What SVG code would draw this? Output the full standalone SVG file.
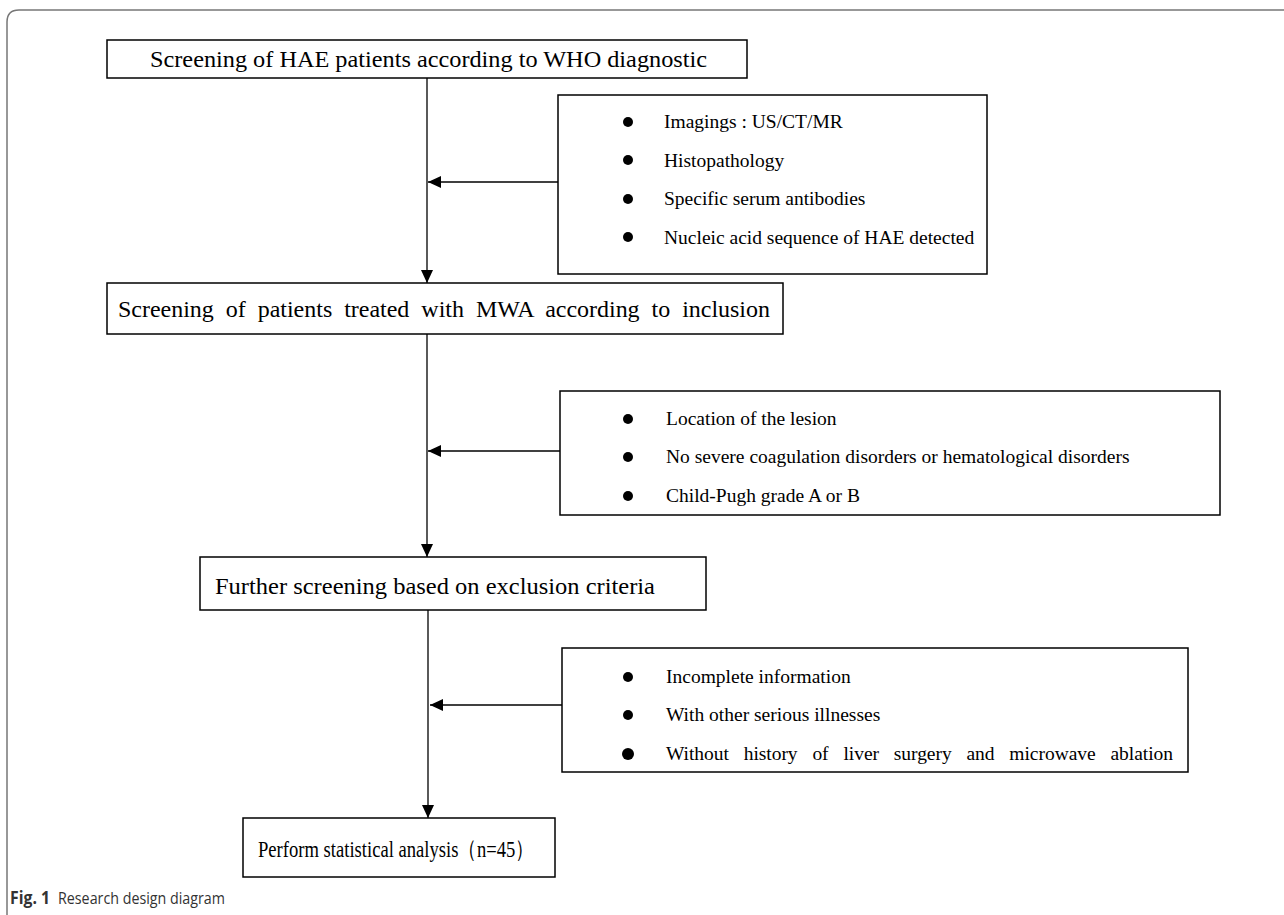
<svg xmlns="http://www.w3.org/2000/svg" width="1284" height="915" viewBox="0 0 1284 915">
<style>
.box{fill:#fff;stroke:#000;stroke-width:1.5}
.t{font-family:"Liberation Serif","Times New Roman",serif;fill:#000}
.big{font-size:24px}
.sm{font-size:19.5px}
.line{stroke:#000;stroke-width:1.3;fill:none}
.dot{fill:#000}
.frame{fill:none;stroke:#777;stroke-width:1.5}
.cap{font-family:"Open Sans","Noto Sans",sans-serif;font-size:17px;fill:#333}
</style>
<defs>
<marker id="ah" viewBox="0 0 13 12" refX="13" refY="6" markerWidth="13" markerHeight="12" markerUnits="userSpaceOnUse" orient="auto">
<path d="M0,0 L13,6 L0,12 z" fill="#000"/>
</marker>
</defs>
<rect width="1284" height="915" fill="#fff"/>
<path class="frame" d="M7,915 L7,22 Q7,10 19,10 L1284,10"/>
<g id="connectors">
<line class="line" x1="427" y1="78" x2="427" y2="283" marker-end="url(#ah)"/>
<line class="line" x1="558" y1="182" x2="428" y2="182" marker-end="url(#ah)"/>
<line class="line" x1="427" y1="334" x2="427" y2="557" marker-end="url(#ah)"/>
<line class="line" x1="560" y1="451" x2="428" y2="451" marker-end="url(#ah)"/>
<line class="line" x1="428" y1="610" x2="428" y2="818" marker-end="url(#ah)"/>
<line class="line" x1="562" y1="705" x2="430" y2="705" marker-end="url(#ah)"/>
</g>
<g id="n1">
<rect class="box" x="107" y="40" width="640" height="38"/>
<text class="t big" x="150" y="67" textLength="557" lengthAdjust="spacingAndGlyphs">Screening of HAE patients according to WHO diagnostic</text>
</g>
<g id="c1">
<rect class="box" x="558" y="95" width="429" height="179"/>
<circle class="dot" cx="628" cy="122" r="5"/>
<circle class="dot" cx="628" cy="160" r="5"/>
<circle class="dot" cx="628" cy="199" r="5"/>
<circle class="dot" cx="628" cy="237" r="5"/>
<text class="t sm" x="664" y="128">Imagings : US/CT/MR</text>
<text class="t sm" x="664" y="167">Histopathology</text>
<text class="t sm" x="664" y="205">Specific serum antibodies</text>
<text class="t sm" x="664" y="244">Nucleic acid sequence of HAE detected</text>
</g>
<g id="n2">
<rect class="box" x="107" y="283" width="676" height="51"/>
<text class="t big" x="118" y="317" word-spacing="6" textLength="652" lengthAdjust="spacing">Screening of patients treated with MWA according to inclusion</text>
</g>
<g id="c2">
<rect class="box" x="560" y="391" width="660" height="124"/>
<circle class="dot" cx="628" cy="419" r="5"/>
<circle class="dot" cx="628" cy="457" r="5"/>
<circle class="dot" cx="628" cy="496" r="5"/>
<text class="t sm" x="666" y="425">Location of the lesion</text>
<text class="t sm" x="666" y="463">No severe coagulation disorders or hematological disorders</text>
<text class="t sm" x="666" y="502">Child-Pugh grade A or B</text>
</g>
<g id="n3">
<rect class="box" x="200" y="557" width="506" height="53"/>
<text class="t big" x="215" y="594" textLength="440" lengthAdjust="spacingAndGlyphs">Further screening based on exclusion criteria</text>
</g>
<g id="c3">
<rect class="box" x="562" y="648" width="626" height="124"/>
<circle class="dot" cx="628" cy="677" r="5"/>
<circle class="dot" cx="628" cy="715" r="5"/>
<circle class="dot" cx="628" cy="754" r="6"/>
<text class="t sm" x="666" y="683">Incomplete information</text>
<text class="t sm" x="666" y="721">With other serious illnesses</text>
<text class="t sm" x="666" y="760" word-spacing="10" textLength="507" lengthAdjust="spacing">Without history of liver surgery and microwave ablation</text>
</g>
<g id="n4">
<rect class="box" x="243" y="818" width="312" height="59"/>
<text class="t big" x="258" y="857" textLength="276" lengthAdjust="spacingAndGlyphs">Perform statistical analysis（n=45）</text>
</g>
<g id="caption">
<text class="cap" x="10" y="904" font-weight="bold" fill="#222" textLength="40" lengthAdjust="spacingAndGlyphs">Fig. 1</text>
<text class="cap" x="58" y="904" textLength="167" lengthAdjust="spacingAndGlyphs">Research design diagram</text>
</g>
</svg>
